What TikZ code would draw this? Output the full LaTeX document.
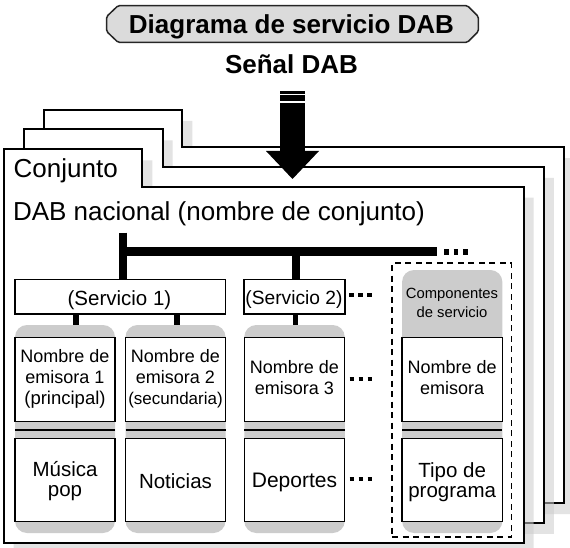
\documentclass[tikz,border=0pt]{standalone}
\usepackage{fontspec}
\setmainfont{Liberation Sans}
\usetikzlibrary{calc}
\definecolor{colgray}{gray}{0.8}
\definecolor{badgegray}{gray}{0.86}
\definecolor{shadowgray}{gray}{0.8}
\newcommand{\pageoutline}{(3.7,542.7) -- (3.7,149.3) -- (142.3,149.3) -- (142.3,186.7) -- (523.5,186.7) -- (523.5,542.7) -- cycle}
\newcommand{\fsz}[1]{\fontsize{#1pt}{#1pt}\selectfont}
\tikzset{
  pageframe/.style={draw=black, line width=2pt, fill=white, line join=miter},
  pageshadow/.style={fill=shadowgray, fill opacity=0.55, draw=none},
  colbg/.style={fill=colgray, rounded corners=12pt, draw=none, inner sep=0pt, outer sep=0pt, minimum width=100pt},
  wbox/.style={draw=black, line width=1.3pt, fill=white, inner sep=0pt, outer sep=0pt, minimum width=100pt},
  txt/.style={inner sep=0pt, outer sep=0pt, anchor=base, font=\fsz{#1}},
  txtl/.style={inner sep=0pt, outer sep=0pt, anchor=base west, font=\fsz{#1}},
  btxt/.style={inner sep=0pt, outer sep=0pt, anchor=base, font=\fsz{26}\bfseries},
  bus/.style={line width=8.4pt, draw=black},
  stemup/.style={line width=7.5pt, draw=black},
  stemlow/.style={line width=5.7pt, draw=black},
  sepline/.style={line width=2.7pt, draw=black},
  bigdots/.style={line width=6pt, draw=black, dash pattern=on 4.7pt off 5pt},
  smalldots/.style={line width=4pt, draw=black, dash pattern=on 4.6pt off 4.4pt},
  dashbox/.style={draw=black, line width=1.8pt, dash pattern=on 6pt off 4.5pt, inner sep=0pt, outer sep=0pt},
  badge/.style={draw=black!85, line width=1.5pt, fill=badgegray, rounded corners=1.5pt},
}
\begin{document}
\begin{tikzpicture}[x=1pt, y=-1pt]
\useasboundingbox (0,0) rectangle (570,548);

% title badge
\draw[badge] (118,5.7) -- (467.5,5.7) -- (478.3,16.5) -- (478.3,31.5) -- (467.5,42.3) -- (118,42.3) -- (106.7,31.5) -- (106.7,16.5) -- cycle;
\node[btxt] (title) at (291.5,33.3) {Diagrama de servicio DAB};
\node[btxt] (signal) at (291.5,74) {Señal DAB};

% stacked pages
\begin{scope}[shift={(40,-39.5)}]
  \fill[pageshadow, shift={(10,11)}] \pageoutline;
  \draw[pageframe] \pageoutline;
\end{scope}
\begin{scope}[shift={(20.3,-19.8)}]
  \fill[pageshadow, shift={(10,11)}] \pageoutline;
  \draw[pageframe] \pageoutline;
\end{scope}
\fill[pageshadow, shift={(10,11)}] \pageoutline;
\draw[pageframe] \pageoutline;

\node[txtl=26] (conj) at (13.7,178) {Conjunto};
\node[txtl=26] (ens) at (13,221) {DAB nacional (nombre de conjunto)};

% service boxes
\node[wbox, minimum width=210.3pt, minimum height=34.7pt] (s1) at (120.15,296.65) {};
\node[wbox, minimum width=101pt, minimum height=34.7pt] (s2) at (294.5,296.65) {};
\node[txt=20.5] (s1t) at (119.5,305) {(Servicio 1)};
\node[txt=19.2] (s2t) at (294,304.3) {(Servicio 2)};

% dashed components frame
\node[dashbox, minimum width=119.5pt, minimum height=273.7pt] (comp) at (451.75,400.15) {};

% gray columns
\node[colbg, minimum height=208pt] (g1) at (65,429) {};
\node[colbg, minimum height=208pt] (g2) at (175.5,429) {};
\node[colbg, minimum height=208pt, minimum width=100.5pt] (g3) at (294.5,429) {};
\node[colbg, minimum height=263pt, minimum width=100.3pt] (g4) at (452.2,401.5) {};

% white boxes
\node[wbox, minimum height=84pt] (n1) at (65,379.5) {};
\node[wbox, minimum height=83pt] (p1) at (65,480) {};
\node[wbox, minimum height=84pt] (n2) at (175.5,379.5) {};
\node[wbox, minimum height=83pt] (p2) at (175.5,480) {};
\node[wbox, minimum height=84pt, minimum width=100.5pt] (n3) at (294.5,379.5) {};
\node[wbox, minimum height=83pt, minimum width=100.5pt] (p3) at (294.5,480) {};
\node[wbox, minimum height=84pt, minimum width=100.3pt] (n4) at (452.2,379.5) {};
\node[wbox, minimum height=83pt, minimum width=100.3pt] (p4) at (452.2,480) {};

% separators
\foreach \u/\l in {n1/p1, n2/p2, n3/p3, n4/p4}{
  \draw[sepline] ($(\u.south west)!0.5!(\l.north west)$) -- ($(\u.south east)!0.5!(\l.north east)$);
}

% texts
\node[txt=14.8] (c4a) at (452,298.3) {Componentes};
\node[txt=14.8] (c4b) at (452,317.3) {de servicio};

\node[txt=18] (n1a) at (65,362.3) {Nombre de};
\node[txt=18] (n1b) at (65,383.3) {emisora 1};
\node[txt=18.5] (n1c) at (65,404.3) {(principal)};
\node[txt=18] (n2a) at (175.5,362.3) {Nombre de};
\node[txt=18] (n2b) at (175.5,383.3) {emisora 2};
\node[txt=17] (n2c) at (175.5,404.3) {(secundaria)};
\node[txt=18] (n3a) at (294.5,373.3) {Nombre de};
\node[txt=18] (n3b) at (294.5,394.3) {emisora 3};
\node[txt=18] (n4a) at (452.2,373.3) {Nombre de};
\node[txt=18] (n4b) at (452.2,394.3) {emisora};

\node[txt=20.5] (p1a) at (65,476.7) {Música};
\node[txt=20.5] (p1b) at (65,496.7) {pop};
\node[txt=20.5] (p2a) at (175.5,488.3) {Noticias};
\node[txt=21] (p3a) at (294.5,487.3) {Deportes};
\node[txt=20.5] (p4a) at (452.2,477.3) {Tipo de};
\node[txt=20.5] (p4b) at (452.2,497.7) {programa};

% bus
\coordinate (bustop) at (123,232.7);
\coordinate (busend) at (436.7,251.5);
\coordinate (k2) at (296,0);
\coordinate (k1a) at (76,0);
\coordinate (k1b) at (177,0);
\coordinate (k3) at (295.5,0);
\draw[stemup] (bustop) -- (s1.north -| bustop);
\draw[bus] ($(bustop |- busend)+(-3.75,0)$) -- (busend);
\draw[stemup] (busend -| k2) -- (s2.north -| k2);
\draw[bigdots] ($(busend)+(7.3,0)$) -- ++(24.4,0);

\draw[stemlow] (s1.south -| k1a) -- (g1.north -| k1a);
\draw[stemlow] (s1.south -| k1b) -- (g2.north -| k1b);
\draw[stemlow] (s2.south -| k3) -- (g3.north -| k3);

% ellipsis dots
\draw[smalldots] ($(s2.east)+(4.3,-1.35)$) -- ++(23.2,0);
\draw[smalldots] ($(n3.east)+(4.8,-0.6)$) -- ++(23.2,0);
\draw[smalldots] ($(p3.east)+(4.8,-1.2)$) -- ++(23.2,0);

% signal arrow
\fill[black] (280,91) rectangle (305,93.7);
\fill[black] (280,95.3) rectangle (305,101.3);
\fill[black] (280,103.3) rectangle (305,151.5);
\fill[black] (266,151) -- (319,151) -- (292.5,179) -- cycle;
\end{tikzpicture}
\end{document}
